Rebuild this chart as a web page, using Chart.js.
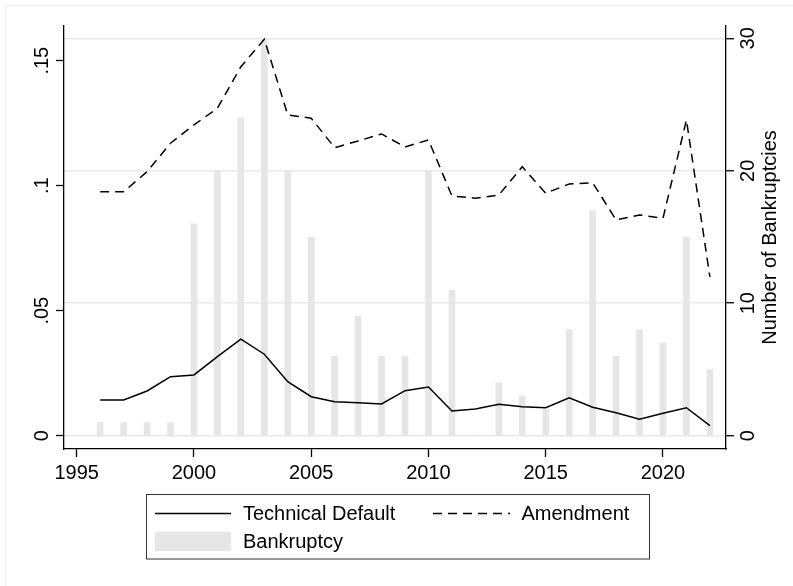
<!DOCTYPE html>
<html lang="en">
<head>
<meta charset="UTF-8" />
<title>Technical Default, Amendment and Bankruptcy</title>
<script src="https://cdn.jsdelivr.net/npm/chart.js"></script>
<style>
  body { margin: 0; background: #fff; }
  .wrap { width: 793px; height: 586px; position: relative; }
</style>
</head>
<body>
<div class="wrap"><canvas id="chart"></canvas></div>
<script>
  const years = [1996, 1997, 1998, 1999, 2000, 2001, 2002, 2003, 2004, 2005, 2006, 2007, 2008, 2009,
                 2010, 2011, 2012, 2013, 2014, 2015, 2016, 2017, 2018, 2019, 2020, 2021, 2022];
  const technicalDefault = [0.0143, 0.0143, 0.0179, 0.0236, 0.0243, 0.0316, 0.0386, 0.0326, 0.0216, 0.0156,
                            0.0136, 0.0132, 0.0127, 0.0180, 0.0195, 0.0099, 0.0107, 0.0126, 0.0116, 0.0112,
                            0.0152, 0.0114, 0.0092, 0.0066, 0.0090, 0.0112, 0.0040];
  const amendment = [0.0976, 0.0976, 0.1056, 0.1170, 0.1243, 0.1310, 0.1476, 0.1586, 0.1283, 0.1270,
                     0.1152, 0.1179, 0.1207, 0.1155, 0.1183, 0.0959, 0.0950, 0.0963, 0.1076, 0.0970,
                     0.1007, 0.1012, 0.0863, 0.0883, 0.0870, 0.1263, 0.0635];
  const bankruptcies = [1, 1, 1, 1, 16, 20, 24, 30, 20, 15, 6, 9, 6, 6, 20, 11, 0, 4, 3, 2, 8, 17, 6, 8, 7, 15, 5];

  const xTicks = [1995, 2000, 2005, 2010, 2015, 2020];
  const leftTicks = [0, 0.05, 0.1, 0.15];
  const leftTickLabels = ['0', '.05', '.1', '.15'];
  const rightTicks = [0, 10, 20, 30];
  const rightTickLabels = ['0', '10', '20', '30'];

  const FONT = '"Liberation Sans", Arial, Helvetica, sans-serif';
  const FONT_SIZE = 20;
  const barGray = '#e6e6e6';
  const gridGray = '#e8e8e8';
  const dash = [9, 6];

  // y tick labels, right axis title and the boxed legend, drawn the Stata way
  const stataDecor = {
    id: 'stataDecor',
    beforeDraw(chart) {
      const ctx = chart.ctx;
      ctx.save();
      ctx.fillStyle = '#fff';
      ctx.fillRect(0, 0, chart.width, chart.height);
      ctx.strokeStyle = '#efefef';
      ctx.lineWidth = 1;
      ctx.beginPath();
      ctx.moveTo(5.5, chart.height);
      ctx.lineTo(5.5, 5.5);
      ctx.lineTo(chart.width, 5.5);
      ctx.stroke();
      ctx.restore();
    },
    afterDraw(chart) {
      const ctx = chart.ctx;
      const yl = chart.scales.y;
      const yr = chart.scales.y2;
      ctx.save();
      ctx.fillStyle = '#000';
      ctx.font = FONT_SIZE + 'px ' + FONT;
      ctx.textAlign = 'center';
      ctx.textBaseline = 'alphabetic';

      const rotText = (txt, x, y) => {
        ctx.save();
        ctx.translate(x, y);
        ctx.rotate(-Math.PI / 2);
        ctx.fillText(txt, 0, 0);
        ctx.restore();
      };

      leftTicks.forEach((v, i) => rotText(leftTickLabels[i], 48, yl.getPixelForValue(v)));
      rightTicks.forEach((v, i) => rotText(rightTickLabels[i], 754, yr.getPixelForValue(v)));
      rotText('Number of Bankruptcies', 776, (chart.chartArea.top + chart.chartArea.bottom) / 2);

      // legend
      const ds = chart.data.datasets;
      ctx.strokeStyle = '#333';
      ctx.lineWidth = 1;
      ctx.strokeRect(146.5, 494.5, 503, 64.5);

      ctx.textAlign = 'left';
      ctx.textBaseline = 'middle';
      ctx.lineWidth = ds[0].borderWidth;
      ctx.strokeStyle = ds[0].borderColor;
      ctx.beginPath();
      ctx.moveTo(155, 513.5);
      ctx.lineTo(231, 513.5);
      ctx.stroke();
      ctx.fillText(ds[0].label, 243, 514);

      ctx.setLineDash(ds[1].borderDash);
      ctx.strokeStyle = ds[1].borderColor;
      ctx.beginPath();
      ctx.moveTo(433, 513.5);
      ctx.lineTo(510, 513.5);
      ctx.stroke();
      ctx.setLineDash([]);
      ctx.fillText(ds[1].label, 521.5, 514);

      ctx.fillStyle = ds[2].backgroundColor;
      ctx.fillRect(155, 531.7, 76, 19.3);
      ctx.fillStyle = '#000';
      ctx.fillText(ds[2].label, 243, 542);
      ctx.restore();
    }
  };

  const pts = (vals) => years.map((x, i) => ({ x: x, y: vals[i] }));

  new Chart(document.getElementById('chart'), {
    type: 'bar',
    data: {
      datasets: [
        {
          type: 'line',
          label: 'Technical Default',
          data: pts(technicalDefault),
          yAxisID: 'y',
          borderColor: '#000',
          borderWidth: 1.5,
          pointRadius: 0,
          tension: 0,
          order: 1
        },
        {
          type: 'line',
          label: 'Amendment',
          data: pts(amendment),
          yAxisID: 'y',
          borderColor: '#000',
          borderWidth: 1.5,
          borderDash: dash,
          pointRadius: 0,
          tension: 0,
          order: 1
        },
        {
          type: 'bar',
          label: 'Bankruptcy',
          data: pts(bankruptcies),
          yAxisID: 'y2',
          backgroundColor: barGray,
          borderWidth: 0,
          barThickness: 6,
          order: 2
        }
      ]
    },
    options: {
      responsive: true,
      maintainAspectRatio: false,
      animation: false,
      layout: { padding: { top: 26, left: 0, right: 0, bottom: 0 } },
      plugins: {
        legend: { display: false },
        tooltip: { enabled: false }
      },
      scales: {
        x: {
          type: 'linear',
          position: 'bottom',
          min: 1994.458,
          max: 2022.687,
          offset: false,
          afterBuildTicks: (s) => { s.ticks = xTicks.map(v => ({ value: v })); },
          afterFit: (s) => { s.height = 137; },
          ticks: {
            callback: (v) => String(v),
            maxRotation: 0,
            autoSkip: false,
            color: '#000',
            padding: 4,
            font: { family: FONT, size: FONT_SIZE }
          },
          grid: {
            offset: false,
            drawOnChartArea: false,
            tickLength: 8,
            tickColor: '#000',
            tickWidth: 1.3
          },
          border: { color: '#000', width: 1.3 }
        },
        y: {
          type: 'linear',
          position: 'left',
          min: -0.00532,
          max: 0.16388,
          afterBuildTicks: (s) => { s.ticks = leftTicks.map(v => ({ value: v })); },
          afterFit: (s) => { s.width = 64; },
          ticks: { display: false },
          grid: {
            drawOnChartArea: false,
            tickLength: 8,
            tickColor: '#000',
            tickWidth: 1.3
          },
          border: { color: '#000', width: 1.3 }
        },
        y2: {
          type: 'linear',
          position: 'right',
          min: -1.004,
          max: 30.93,
          afterBuildTicks: (s) => { s.ticks = rightTicks.map(v => ({ value: v })); },
          afterFit: (s) => { s.width = 67; },
          ticks: { display: false },
          grid: {
            color: gridGray,
            lineWidth: 1.5,
            tickLength: 8,
            tickColor: '#000',
            tickWidth: 1.3
          },
          border: { color: '#000', width: 1.3 }
        }
      }
    },
    plugins: [stataDecor]
  });
</script>
</body>
</html>
